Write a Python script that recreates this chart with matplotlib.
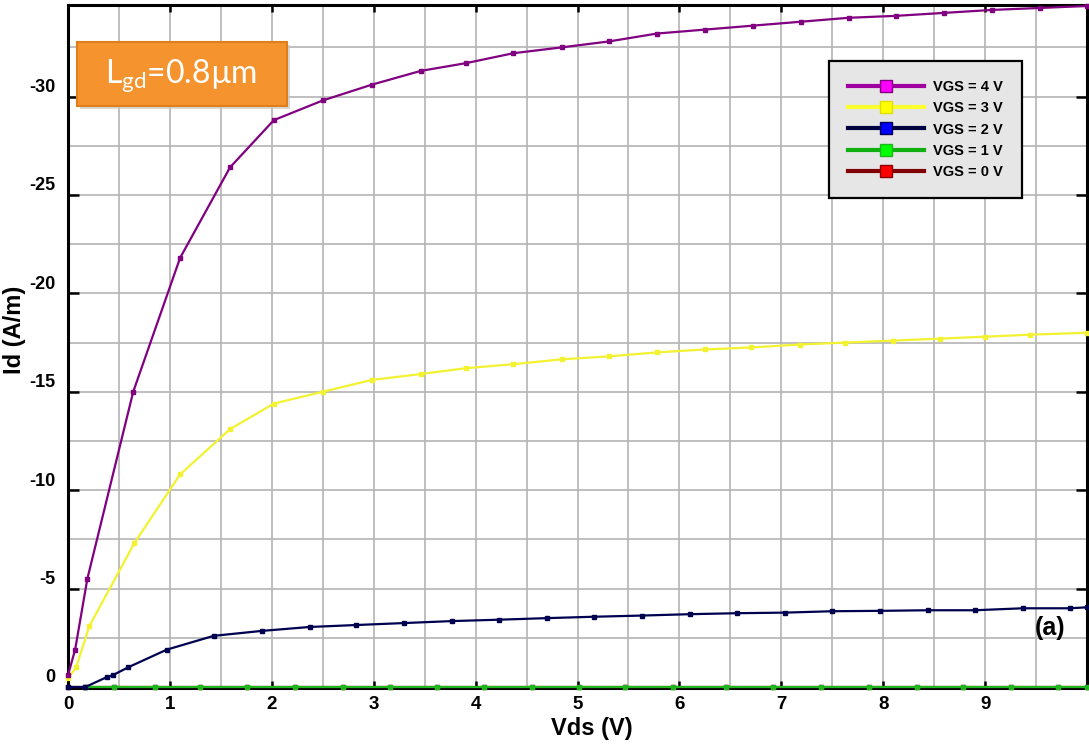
import numpy as np
import matplotlib.pyplot as plt
from matplotlib.lines import Line2D
from matplotlib.patches import Rectangle
from matplotlib.transforms import ScaledTranslation

plt.rcParams['font.family'] = ['Liberation Sans', 'DejaVu Sans']
plt.rcParams['axes.unicode_minus'] = False
plt.rcParams['mathtext.fontset'] = 'custom'
plt.rcParams['mathtext.rm'] = 'Lato'

# Id-Vds curves (Id in A/m, negative)
vds_4 = [0, 0.07, 0.19, 0.64, 1.10, 1.59, 2.02, 2.5, 2.98, 3.46, 3.91, 4.37, 4.85,
         5.31, 5.78, 6.25, 6.72, 7.19, 7.66, 8.13, 8.6, 9.07, 9.54, 10.0]
id_4 = [-0.6, -1.9, -5.5, -15.0, -21.8, -26.4, -28.8, -29.8, -30.6, -31.3, -31.7, -32.2, -32.5,
        -32.8, -33.2, -33.4, -33.6, -33.8, -34.0, -34.1, -34.25, -34.4, -34.5, -34.6]

vds_3 = [0, 0.08, 0.21, 0.65, 1.10, 1.59, 2.02, 2.5, 2.98, 3.46, 3.91, 4.37, 4.85,
         5.31, 5.78, 6.25, 6.7, 7.18, 7.63, 8.1, 8.56, 9.0, 9.44, 10.0]
id_3 = [-0.45, -1.0, -3.1, -7.3, -10.8, -13.1, -14.4, -15.0, -15.6, -15.9, -16.2, -16.4, -16.65,
        -16.8, -17.0, -17.15, -17.25, -17.4, -17.5, -17.6, -17.7, -17.8, -17.9, -18.0]

vds_2 = [0, 0.17, 0.38, 0.44, 0.59, 0.97, 1.43, 1.9, 2.37, 2.83, 3.3, 3.77, 4.23, 4.7,
         5.16, 5.63, 6.1, 6.57, 7.04, 7.5, 7.97, 8.44, 8.9, 9.37, 9.83, 10.0]
id_2 = [0, 0, -0.5, -0.6, -1.0, -1.9, -2.6, -2.85, -3.05, -3.15, -3.25, -3.35, -3.42, -3.5,
        -3.57, -3.63, -3.7, -3.75, -3.78, -3.85, -3.87, -3.9, -3.9, -4.0, -4.0, -4.05]

vds_1 = [0.17, 0.45, 0.85, 1.3, 1.76, 2.23, 2.7, 3.16, 3.62, 4.08, 4.55, 5.01, 5.47, 5.94,
         6.46, 6.92, 7.39, 7.86, 8.33, 8.78, 9.25, 9.72, 10.0]
id_1 = [0] * len(vds_1)

vds_0 = [0, 0.17, 0.45, 0.85, 1.3, 1.76, 2.23, 2.7, 3.16, 3.62, 4.08, 4.55, 5.01, 5.47,
         5.94, 6.46, 6.92, 7.39, 7.86, 8.33, 8.78, 9.25, 9.72, 10.0]
id_0 = [0] * len(vds_0)

labels = ['VGS = 4 V', 'VGS = 3 V', 'VGS = 2 V', 'VGS = 1 V', 'VGS = 0 V']
line_colors = ['#800080', '#f2f230', '#000050', '#1fb51f', '#8b0000']
leg_line_colors = ['#a000a0', '#ffff30', '#000040', '#10b010', '#800000']
leg_face_colors = ['#ff00ff', '#ffff00', '#0000ff', '#00ff00', '#ff0000']

fig = plt.figure(figsize=(10.89, 7.48), dpi=100)
ax = fig.add_axes([68 / 1089, 1 - 688 / 748, 1019 / 1089, 683 / 748])

series = [(vds_0, id_0), (vds_1, id_1), (vds_2, id_2), (vds_3, id_3), (vds_4, id_4)]
for i, (x, y) in enumerate(series):
    c = line_colors[4 - i]
    ax.plot(x, y, color=c, lw=1.6, marker='s', ms=3.2, mfc=c, mec=c, zorder=3 + i,
            clip_on=False)

ax.set_xlim(0, 10)
ax.set_ylim(0.05, -34.65)
ax.set_xticks(np.arange(0, 10))
ax.set_yticks([0, -5, -10, -15, -20, -25, -30])
ax.set_xticks(np.arange(0, 10.01, 0.5), minor=True)
ax.set_yticks(np.arange(0, -34.7, -2.5), minor=True)
ax.grid(True, which='both', color='#b4b4b4', lw=1.2)
ax.set_axisbelow(True)

ax.tick_params(axis='x', which='major', direction='in', top=True, length=5, width=1.8,
               labelsize=13.5, pad=6)
ax.tick_params(axis='y', which='major', direction='in', right=True, length=8, width=1.8,
               labelsize=13, pad=9)
ax.tick_params(which='minor', length=0)
for lbl in ax.get_xticklabels() + ax.get_yticklabels():
    lbl.set_fontweight('bold')
for lbl in ax.get_yticklabels():
    lbl.set_transform(lbl.get_transform() + ScaledTranslation(0, 8 / 72, fig.dpi_scale_trans))

for s in ax.spines.values():
    s.set_linewidth(2.2)
    s.set_color('black')

ax.set_xlabel('Vds (V)', fontsize=17, fontweight='bold')
ax.xaxis.set_label_coords(0.514, -0.042)
ax.set_ylabel('Id (A/m)', fontsize=17, fontweight='bold')
ax.yaxis.set_label_coords(-0.041, 0.524)

ax.text(0.964, 0.088, '(a)', transform=ax.transAxes, fontsize=18, fontweight='bold',
        ha='center', va='center', zorder=10)

handles = [Line2D([], [], color=leg_line_colors[k], lw=3, marker='s', ms=9,
                  mfc=leg_face_colors[k], mec=line_colors[k] if k != 1 else '#e0e000')
           for k in range(5)]
leg = ax.legend(handles, labels, loc='upper left', bbox_to_anchor=(0.7473, 0.918),
                prop={'weight': 'bold', 'size': 10.5}, handlelength=5.2, labelspacing=0.5,
                fancybox=False, framealpha=1, borderpad=1.3, handletextpad=0.6,
                borderaxespad=0)
leg.get_frame().set_facecolor('#e6e6e6')
leg.get_frame().set_edgecolor('black')
leg.get_frame().set_linewidth(1.6)
leg.set_zorder(20)

# orange label box
fig.patches.append(Rectangle((80 / 1089, 1 - 109 / 748), 210 / 1089, 64 / 748,
                             transform=fig.transFigure, facecolor='#c8c8c8',
                             edgecolor='none', alpha=0.7, zorder=20))
fig.patches.append(Rectangle((77 / 1089, 1 - 106 / 748), 210 / 1089, 64 / 748,
                             transform=fig.transFigure, facecolor='#f5932e',
                             edgecolor='#e07f1a', lw=1.5, zorder=21))
fig.text(181 / 1089, 1 - 76 / 748, r'L$_{\mathrm{gd}}$=0.8µm', color='white', fontsize=23,
         family='Lato', ha='center', va='center', zorder=22)

fig.savefig('out.png', dpi=100)
